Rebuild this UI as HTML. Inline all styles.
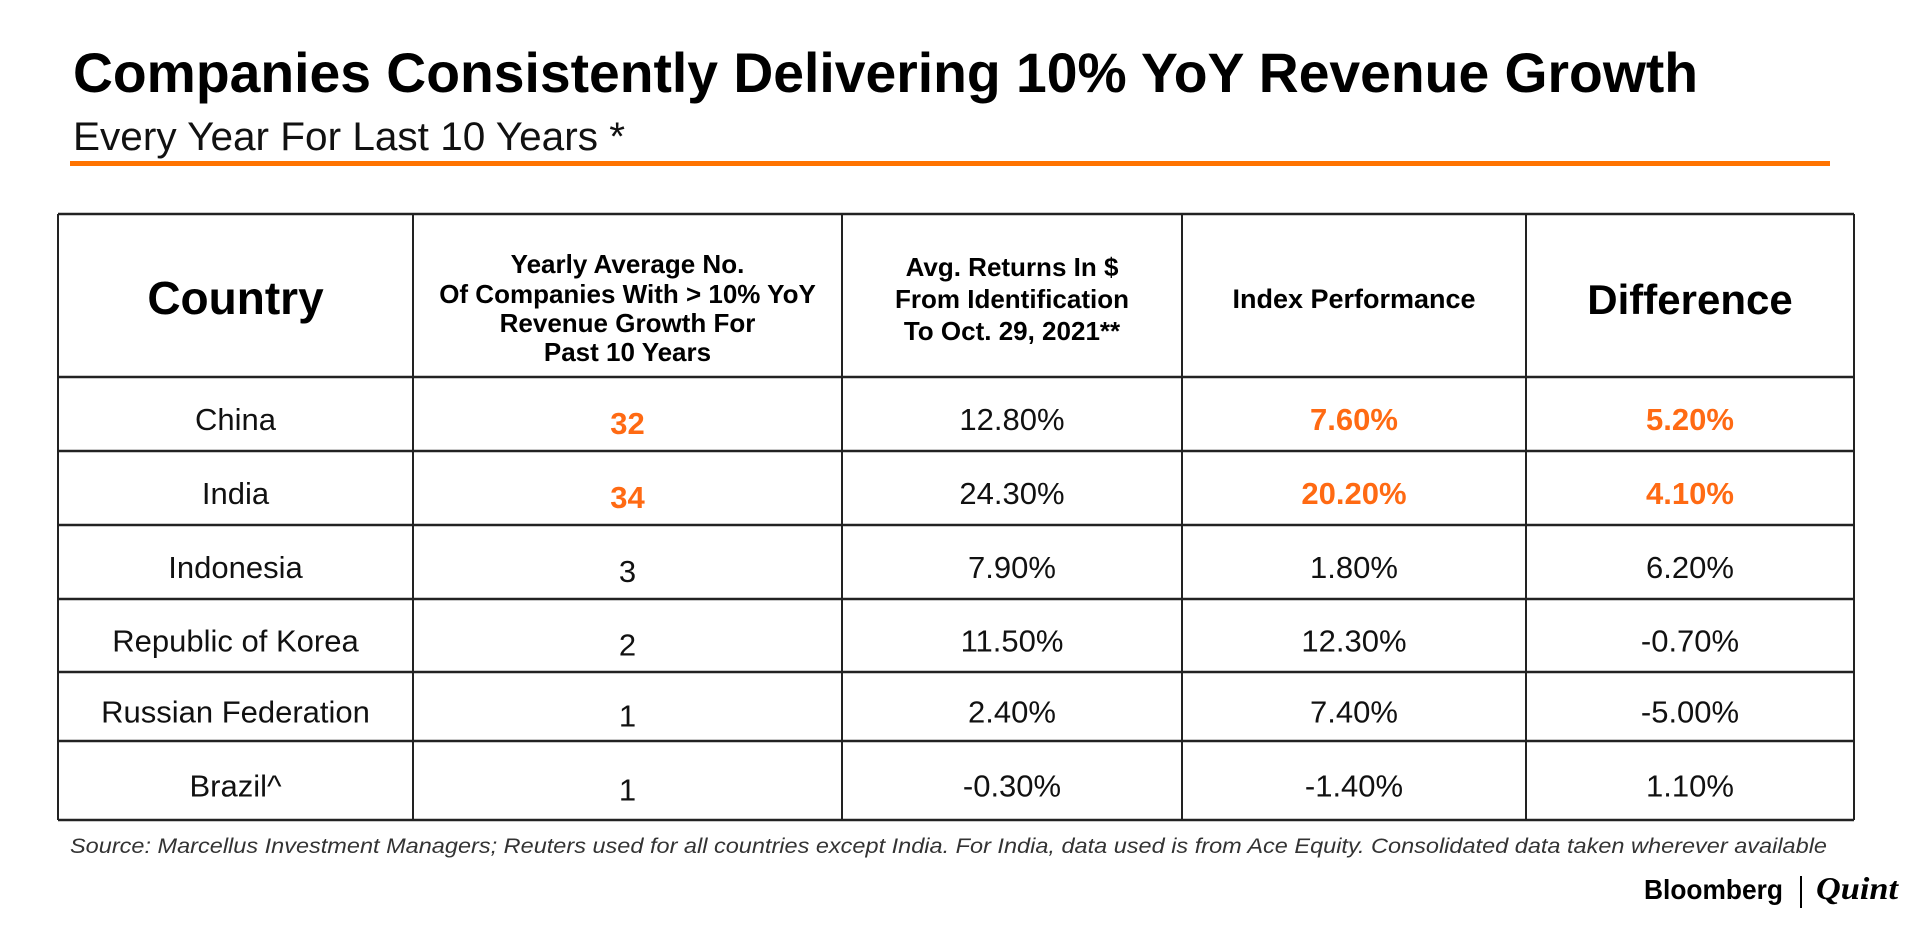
<!DOCTYPE html>
<html><head><meta charset="utf-8"><style>
html,body{margin:0;padding:0;background:#fff;width:1920px;height:930px;overflow:hidden}
svg{display:block}
text{font-family:"Liberation Sans Narrow","Liberation Sans",sans-serif}
</style></head><body>
<svg id="chart" width="1920" height="930" viewBox="0 0 1920 930">
<text x="73" y="92" font-size="56" font-weight="bold" textLength="1625" lengthAdjust="spacingAndGlyphs">Companies Consistently Delivering 10% YoY Revenue Growth</text>
<text x="73" y="150" font-size="40" textLength="552" lengthAdjust="spacingAndGlyphs" fill="#111">Every Year For Last 10 Years *</text>
<rect x="70" y="161" width="1760" height="5" fill="#ff7300"/>
<g id="table"></g>
<text x="70" y="853" font-size="21" font-style="italic" fill="#333" textLength="1757" lengthAdjust="spacingAndGlyphs">Source: Marcellus Investment Managers; Reuters used for all countries except India. For India, data used is from Ace Equity. Consolidated data taken wherever available</text>
<text x="1644" y="899" font-size="28" font-weight="bold" textLength="139" lengthAdjust="spacingAndGlyphs">Bloomberg</text>
<rect x="1800" y="876" width="2" height="32" fill="#000"/>
<text x="1816" y="899" font-size="32" font-style="italic" font-weight="bold" textLength="82" lengthAdjust="spacingAndGlyphs" style="font-family:'Liberation Serif',serif">Quint</text>
</svg>
<script>
const countries = ["China","India","Indonesia","Republic of Korea","Russian Federation","Brazil^"];
const companyCounts = ["32","34","3","2","1","1"];
const avgReturns = ["12.80%","24.30%","7.90%","11.50%","2.40%","-0.30%"];
const indexPerf = ["7.60%","20.20%","1.80%","12.30%","7.40%","-1.40%"];
const differences = ["5.20%","4.10%","6.20%","-0.70%","-5.00%","1.10%"];
const highlightRows = [true,true,false,false,false,false];

const NS="http://www.w3.org/2000/svg";
const g=document.getElementById('table');
const colX=[58,413,842,1182,1526,1854];
const rowY=[214,377,451,525,599,672,741,820];
const ORANGE="#ff6a13";
function mk(tag,attrs,txt){const e=document.createElementNS(NS,tag);for(const k in attrs)e.setAttribute(k,attrs[k]);if(txt!=null)e.textContent=txt;g.appendChild(e);return e;}
for(let i=0;i<colX.length;i++){
  const l=mk('line',{x1:colX[i],x2:colX[i],y1:rowY[0],y2:rowY[rowY.length-1],stroke:'#222','stroke-width':2});
  
  
}
for(let i=0;i<rowY.length;i++){
  const l=mk('line',{x1:colX[0],x2:colX[colX.length-1],y1:rowY[i],y2:rowY[i],stroke:'#222','stroke-width':2.5});
  
  
}
function cx(c){return (colX[c]+colX[c+1])/2;}
const headers=[
  {lines:["Country"],size:46,ys:[314]},
  {lines:["Yearly Average No.","Of Companies With > 10% YoY","Revenue Growth For","Past 10 Years"],size:26,ys:[273,303,332,361]},
  {lines:["Avg. Returns In $","From Identification","To Oct. 29, 2021**"],size:26,ys:[276,308,340]},
  {lines:["Index Performance"],size:27,ys:[308]},
  {lines:["Difference"],size:42,ys:[314]}
];
const headerNames=['country-header','company-count-header','avg-returns-header','index-performance-header','difference-header'];
headers.forEach((h,c)=>{
  h.lines.forEach((ln,i)=>{
    const t=mk('text',{x:cx(c),y:h.ys[i],'text-anchor':'middle','font-size':h.size,'font-weight':'bold'},ln);
    
    
  });
});
const cols=[countries,companyCounts,avgReturns,indexPerf,differences];
const colNames=['country-cell','company-count-cell','avg-return-cell','index-performance-cell','difference-cell'];
for(let r=0;r<countries.length;r++){
  const y=(rowY[r+1]+rowY[r+2])/2+16;
  for(let c=0;c<5;c++){
    const hl=highlightRows[r]&&(c===1||c===3||c===4);
    const t=mk('text',{x:cx(c),y:(c===1?y+4:y),'text-anchor':'middle','font-size':31,fill:hl?ORANGE:'#111','font-weight':hl?'bold':'normal'},cols[c][r]);
    
    
  }
}
</script>
</body></html>
